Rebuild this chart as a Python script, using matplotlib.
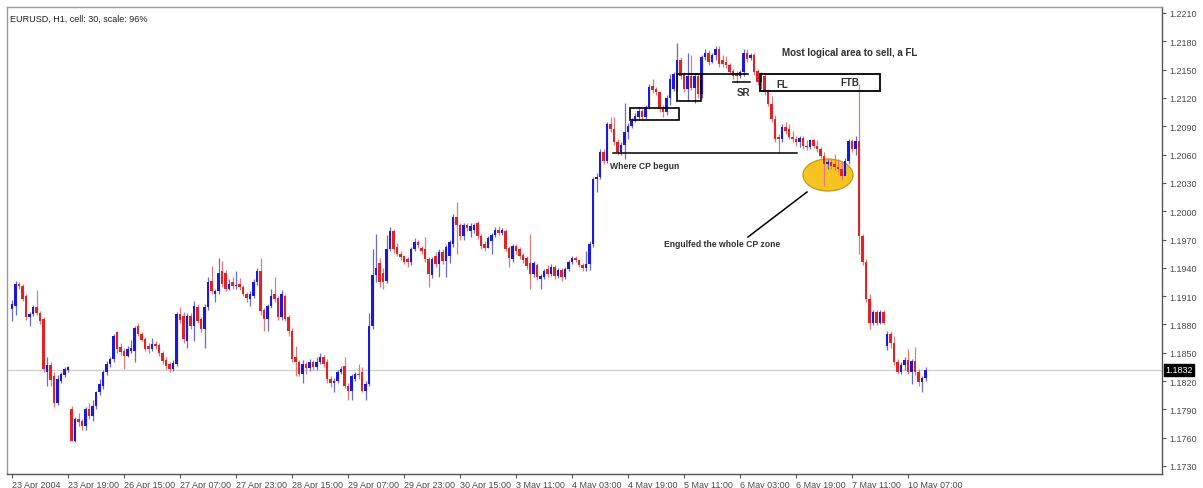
import matplotlib
matplotlib.use("Agg")
import matplotlib.pyplot as plt
from matplotlib.patches import Rectangle, Ellipse
from matplotlib.transforms import blended_transform_factory
import numpy as np

# ---- data (prices x 10000), hourly EURUSD bars ----
opens = [11896,11900,11923,11921,11910,11888,11891,11899,11892,11886,11830,11837,11825,11797,11820,11826,11832,
 11790,11757,11780,11778,11772,11790,11783,11794,11808,11815,11830,11838,11843,11872,11856,11852,11847,11852,11852,
 11878,11870,11865,11857,11854,11859,11858,11850,11842,11838,11833,11838,11891,11889,11862,11889,11878,11899,11886,
 11875,11898,11926,11912,11915,11937,11935,11918,11925,11921,11923,11920,11912,11907,11910,11925,11937,11895,11886,
 11900,11912,11908,11888,11910,11888,11873,11845,11840,11828,11838,11834,11840,11835,11840,11846,11840,11822,11818,
 11820,11830,11836,11815,11810,11822,11828,11830,11810,11817,11878,11932,11945,11935,11926,
 11960,11979,11962,11955,11952,11949,11946,11960,11967,11961,11960,11949,11932,11952,11944,11957,11947,11952,11965,
 11994,11985,11974,11985,11979,11980,11987,11974,11965,11961,11968,11975,11980,11977,11979,11961,11949,11963,11960,
 11954,11950,11945,11933,11943,11928,11930,11939,11933,11941,11931,11938,11930,11939,11946,11950,11948,11943,11940,
 11944,11965,
 12034,12036,12063,12053,12092,12087,12073,12063,12070,12084,12090,12096,12100,12106,12100,12110,12133,12129,12126,
 12110,12105,12120,12130,12145,12160,12145,12129,12143,12131,12143,12124,12163,12168,12158,12165,12172,12160,12158,
 12155,12149,12146,12143,12148,12168,12162,12166,12149,12137,12143,12127,12114,12098,12079,12076,12089,12087,12079,
 12076,12073,
 12078,12069,12068,12075,12069,12066,12059,12050,12052,12050,12047,12045,12037,12053,12074,12066,12074,11974,11946,
 11907,11882,11893,11882,11893,11857,11870,11860,11840,11830,11837,11842,11830,11841,11830,11819,11823]
highs = [11906,11926,11925,11923,11912,11893,11901,11917,11894,11888,11845,11840,11830,11826,11830,11835,11836,
 11794,11782,11786,11780,11792,11797,11800,11810,11822,11832,11841,11846,11870,11873,11860,11855,11857,11864,11878,
 11882,11872,11867,11860,11866,11862,11860,11852,11845,11840,11842,11893,11898,11893,11892,11892,11905,11902,11888,
 11902,11930,11942,11918,11950,11947,11938,11928,11930,11937,11929,11922,11914,11915,11928,11940,11950,11897,11902,
 11918,11930,11910,11916,11912,11890,11876,11857,11842,11842,11840,11843,11842,11845,11850,11848,11843,11825,11823,
 11832,11836,11845,11818,11828,11830,11838,11835,11820,11892,11960,11976,11950,11940,11975,
 11983,11981,11966,11958,11954,11951,11962,11972,11969,11963,11973,11951,11951,11957,11960,11960,11964,11969,11997,
 12010,11988,11988,11987,11987,11988,11990,11976,11968,11974,11977,11983,11984,11982,11981,11963,11965,11965,11962,
 11956,11952,11976,11947,11945,11933,11939,11943,11944,11943,11940,11940,11941,11948,11952,11952,11948,11945,11958,
 11968,12036,
 12040,12066,12066,12095,12100,12100,12076,12073,12115,12093,12099,12104,12110,12108,12113,12135,12140,12132,12126,
 12112,12123,12145,12148,12178,12163,12147,12168,12165,12146,12146,12166,12172,12171,12168,12175,12175,12166,12164,
 12157,12151,12149,12150,12172,12172,12168,12168,12151,12148,12146,12130,12122,12102,12082,12092,12095,12092,12085,
 12080,12080,
 12080,12075,12077,12077,12075,12068,12063,12055,12055,12061,12055,12052,12056,12077,12076,12080,12135,11976,11949,
 11912,11895,11895,11895,11895,11873,11873,11868,11843,11840,11845,11854,11843,11856,11833,11825,11835]
lows = [11884,11890,11918,11905,11885,11878,11889,11890,11880,11830,11815,11815,11793,11795,11818,11824,11830,
 11756,11755,11772,11768,11768,11780,11778,11790,11805,11812,11826,11835,11840,11850,11848,11833,11845,11850,11840,
 11868,11862,11852,11850,11852,11854,11847,11838,11833,11830,11831,11836,11882,11860,11855,11875,11862,11882,11872,
 11855,11895,11912,11904,11912,11920,11915,11916,11918,11918,11917,11910,11904,11900,11908,11922,11890,11873,11873,
 11897,11904,11885,11885,11884,11868,11840,11825,11825,11818,11828,11831,11832,11832,11838,11835,11818,11814,11808,
 11818,11828,11813,11800,11800,11820,11822,11808,11800,11815,11875,11925,11920,11918,11924,
 11958,11956,11952,11948,11944,11941,11943,11958,11961,11955,11946,11920,11929,11941,11930,11944,11930,11945,11962,
 11955,11970,11970,11979,11973,11977,11971,11960,11958,11961,11955,11973,11975,11975,11958,11941,11946,11955,11949,
 11945,11939,11918,11930,11927,11918,11928,11930,11931,11928,11929,11926,11928,11937,11944,11946,11941,11937,11937,
 11938,11962,
 12020,12034,12050,12051,12084,12070,12060,12060,12055,12077,12088,12094,12098,12097,12098,12108,12125,12123,12105,
 12100,12102,12112,12127,12127,12140,12126,12117,12128,12115,12120,12120,12160,12155,12157,12160,12153,12153,12152,
 12145,12140,12136,12141,12143,12158,12160,12144,12134,12130,12123,12111,12095,12073,12062,12073,12082,12076,12073,
 12069,12068,
 12066,12065,12066,12067,12063,12056,12027,12045,12045,12044,12042,12033,12038,12050,12063,12060,11955,11943,11904,
 11875,11879,11879,11880,11880,11853,11855,11837,11827,11828,11832,11827,11817,11826,11815,11808,11820]
closes = [11902,11923,11921,11907,11888,11891,11899,11892,11884,11833,11837,11821,11797,11822,11828,11833,11835,
 11757,11780,11777,11772,11790,11783,11794,11808,11817,11830,11838,11843,11868,11854,11851,11847,11854,11855,11876,
 11870,11864,11854,11854,11859,11857,11850,11841,11836,11833,11839,11891,11885,11865,11889,11878,11900,11884,11875,
 11898,11925,11915,11915,11934,11923,11918,11923,11921,11922,11920,11912,11908,11912,11925,11937,11894,11886,11900,
 11910,11907,11888,11912,11886,11873,11843,11840,11828,11838,11834,11840,11835,11840,11846,11838,11822,11818,11820,
 11830,11833,11815,11810,11825,11828,11826,11810,11817,11878,11932,11940,11925,11925,11960,
 11979,11960,11955,11951,11946,11946,11960,11967,11964,11958,11949,11933,11949,11944,11957,11947,11962,11967,11994,
 11985,11974,11985,11982,11984,11985,11974,11963,11961,11972,11975,11980,11977,11980,11960,11950,11963,11958,11952,
 11948,11942,11933,11945,11930,11931,11937,11933,11941,11931,11938,11930,11939,11946,11950,11948,11943,11940,11944,
 11965,12034,
 12036,12063,12053,12092,12087,12073,12063,12070,12084,12090,12096,12101,12106,12100,12110,12132,12128,12126,12108,
 12105,12120,12140,12145,12160,12143,12129,12143,12131,12143,12124,12163,12168,12158,12165,12172,12156,12156,12155,
 12148,12143,12143,12148,12168,12161,12165,12147,12137,12145,12126,12114,12098,12076,12076,12089,12085,12079,12076,
 12073,12078,
 12069,12068,12075,12069,12066,12059,12050,12052,12048,12047,12045,12037,12053,12074,12066,12074,11974,11946,11907,
 11882,11893,11882,11893,11882,11870,11860,11840,11830,11837,11842,11830,11841,11830,11819,11823,11832]

x_labels = ["23 Apr 2004", "23 Apr 19:00", "26 Apr 15:00", "27 Apr 07:00", "27 Apr 23:00",
            "28 Apr 15:00", "29 Apr 07:00", "29 Apr 23:00", "30 Apr 15:00", "3 May 11:00",
            "4 May 03:00", "4 May 19:00", "5 May 11:00", "6 May 03:00", "6 May 19:00",
            "7 May 11:00", "10 May 07:00"]
y_ticks = [1.1730, 1.1760, 1.1790, 1.1820, 1.1850, 1.1880, 1.1910, 1.1940, 1.1970,
           1.2000, 1.2030, 1.2060, 1.2090, 1.2120, 1.2150, 1.2180, 1.2210]
last_price = 1.1832

O = np.array(opens) / 10000.0
H = np.array(highs) / 10000.0
L = np.array(lows) / 10000.0
C = np.array(closes) / 10000.0
n = min(len(O), len(H), len(L), len(C))
O, H, L, C = O[:n], H[:n], L[:n], C[:n]
idx = np.arange(n)

W, Hh = 1203, 489
fig = plt.figure(figsize=(W / 100, Hh / 100), dpi=100)
ax = fig.add_axes([7 / W, 1 - 475 / Hh, (1162 - 7) / W, (475 - 8) / Hh])

px_per_bar = 3.5
def bx(xpix):
    return (xpix - 12) / px_per_bar
ppp = 0.003 / (453 / 16)
def py(ypix):
    return 1.2210 - (ypix - 14) * ppp

ax.set_xlim(bx(7), bx(1162))
ax.set_ylim(py(475), py(8))

up = C >= O
bull_c, bear_c = '#1a1ad8', '#e42222'
bull_w, bear_w = '#6a6ac8', '#e07a80'

ax.axhline(last_price, color='#cfcfcf', lw=0.9, zorder=1)

# ellipse (behind candles)
ax.add_patch(Ellipse((bx(828), py(176)), 50 / px_per_bar, 32 * ppp,
                     facecolor='#f6c421', edgecolor='#c99612', lw=0.9, zorder=2))

ax.vlines(idx[up], L[up], H[up], color=bull_w, lw=0.9, zorder=3)
ax.vlines(idx[~up], L[~up], H[~up], color=bear_w, lw=0.9, zorder=3)
minh = 0.00004
hgt = np.where(np.abs(C - O) < minh, minh, np.abs(C - O))
bot = np.minimum(O, C)
ax.bar(idx[up], hgt[up], bottom=bot[up], width=0.72, color=bull_c, lw=0, zorder=4)
ax.bar(idx[~up], hgt[~up], bottom=bot[~up], width=0.72, color=bear_c, lw=0, zorder=4)

# annotations
afam = ['Liberation Sans Narrow', 'Liberation Sans', 'DejaVu Sans']
afont = dict(family=afam, fontweight='bold', fontsize=7, color='#303030')
sfont = dict(family=afam, fontweight='bold', fontsize=6.2, color='#303030')
ax.plot([bx(613), bx(797)], [py(154), py(154)], color='black', lw=1.1, zorder=5)
ax.text(bx(610), py(167), "Where CP begun", va='center', ha='left', zorder=6, **sfont)
ax.add_patch(Rectangle((bx(630), py(121)), 49 / px_per_bar, 12 * ppp, fill=False,
                       edgecolor='black', lw=1.2, zorder=5))
ax.add_patch(Rectangle((bx(677), py(102)), 24 / px_per_bar, 27 * ppp, fill=False,
                       edgecolor='black', lw=1.2, zorder=5))
ax.plot([bx(690), bx(748)], [py(75), py(75)], color='black', lw=1.2, zorder=5)
ax.plot([bx(733), bx(750)], [py(83), py(83)], color='black', lw=1.1, zorder=5)
ax.text(bx(743), py(93), "SR", va='center', ha='center', zorder=6, **afont)
ax.add_patch(Rectangle((bx(760), py(92)), 120 / px_per_bar, 17 * ppp, fill=False,
                       edgecolor='black', lw=1.3, zorder=5))
ax.text(bx(776), py(85), "FL", va='center', ha='left', zorder=6, **afont)
ax.text(bx(840), py(83), "FTB", va='center', ha='left', zorder=6, **afont)
ax.text(bx(782), py(53), "Most logical area to sell, a FL", va='center', ha='left', zorder=6, **afont)
ax.plot([bx(748), bx(807)], [py(238), py(193)], color='black', lw=1.1, zorder=5)
ax.text(bx(664), py(245), "Engulfed the whole CP zone", va='center', ha='left', zorder=6, **sfont)

tfont = ['Liberation Sans', 'DejaVu Sans']
ax.text(0.0025, 0.985, "EURUSD, H1, cell: 30, scale: 96%", transform=ax.transAxes,
        ha='left', va='top', fontsize=6.5, color='#202020', family=tfont)

# axes styling
for s in ax.spines.values():
    s.set_color('#555555')
    s.set_linewidth(1.0)
ax.spines['left'].set_color('#9a9a9a')
ax.spines['top'].set_color('#9a9a9a')
ax.yaxis.tick_right()
ax.set_yticks(y_ticks)
ax.set_yticklabels([f"{v:.4f}" for v in y_ticks], family=tfont, fontsize=6.5, color='#4a4a4a')
ax.set_xticks([16 * k for k in range(len(x_labels))])
ax.set_xticklabels(x_labels, family=tfont, fontsize=6.5, color='#4a4a4a', ha='left')
ax.tick_params(axis='y', direction='out', length=3, width=0.8, pad=2, colors='#555555', labelcolor='#4a4a4a')
ax.tick_params(axis='x', direction='out', length=3, width=0.8, pad=1, colors='#555555', labelcolor='#4a4a4a')

tr = blended_transform_factory(ax.transAxes, ax.transData)
ax.text(1.0025, last_price, f"{last_price:.4f}", transform=tr, ha='left', va='center',
        fontsize=6.5, color='white', family=tfont, zorder=10, clip_on=False,
        bbox=dict(boxstyle='square,pad=0.15', facecolor='black', edgecolor='black'))

fig.savefig("out.png", dpi=100, facecolor='white')
